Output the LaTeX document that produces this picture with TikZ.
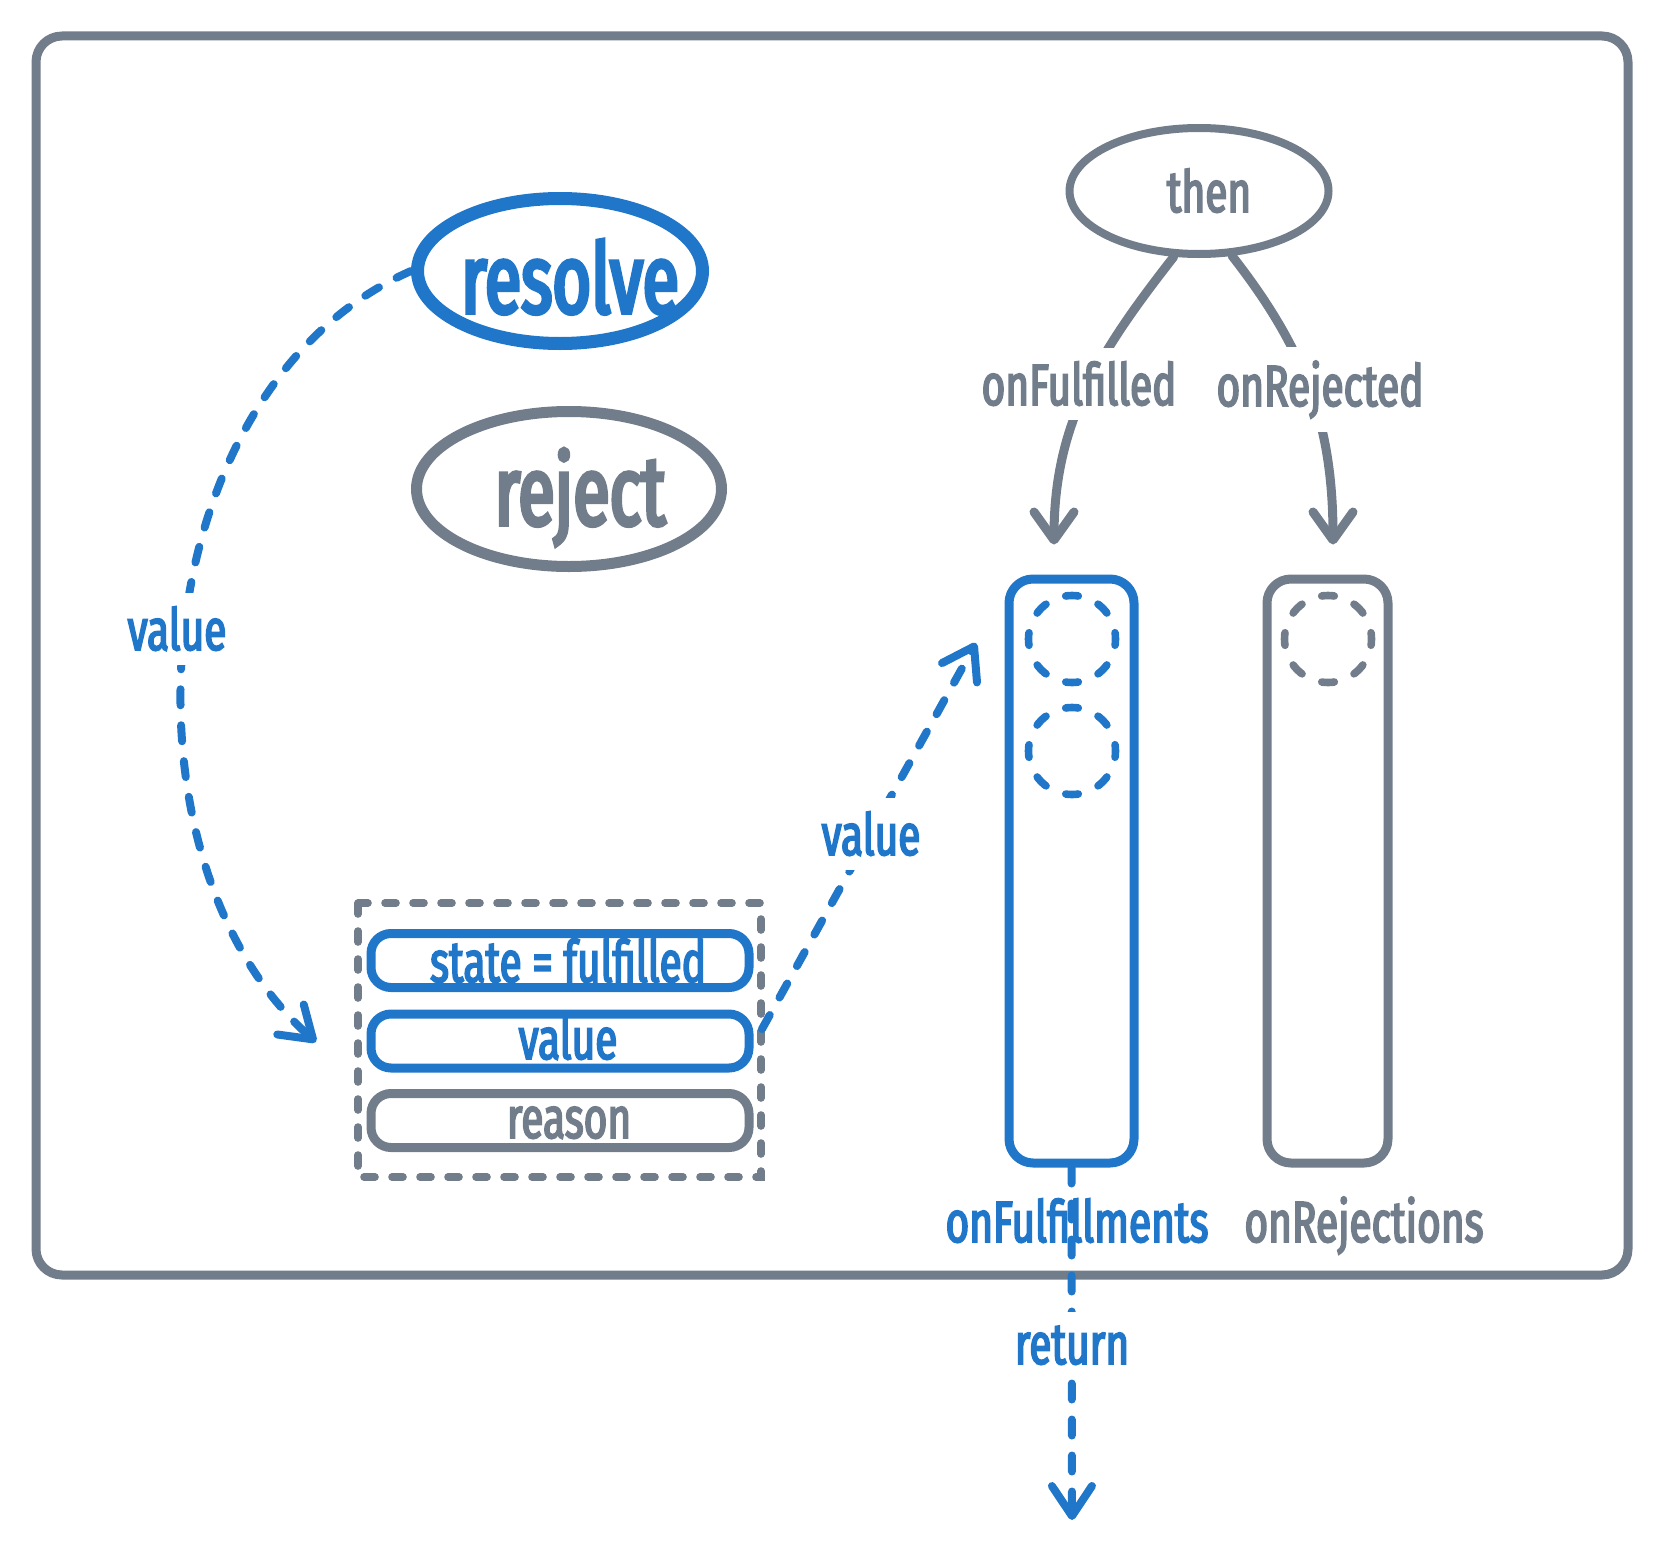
\documentclass[tikz,border=0pt]{standalone}
\usepackage{fontspec}
\setmainfont{Fira Sans}
\newfontfamily\hand{Fira Sans}[FakeStretch=0.7, FakeBold=3]
\newfontfamily\handbig{Fira Sans}[FakeStretch=0.68, FakeBold=4]
\usetikzlibrary{shapes.geometric,arrows.meta}
\definecolor{pblue}{RGB}{32,119,201}
\definecolor{pgray}{RGB}{113,125,138}
\begin{document}
\begin{tikzpicture}[x=0.5pt,y=-0.5pt,
  txt/.style={font=\hand\fontsize{29}{32}\selectfont, inner sep=0pt, anchor=base},
  bigtxt/.style={font=\handbig\fontsize{49}{52}\selectfont, inner sep=0pt, anchor=base},
  gap/.style={fill=white, inner xsep=4pt, inner ysep=7pt},
  oval/.style={ellipse, draw, inner sep=0pt},
  colbox/.style={draw, line width=4.5pt, rounded corners=12pt, minimum width=62.5pt, minimum height=292pt, inner sep=0pt},
  slot/.style={draw, line width=4.5pt, rounded corners=10pt, minimum width=189pt, minimum height=27pt, inner sep=0pt},
  dcirc/.style={circle, draw, line width=3.8pt, line cap=round, minimum size=43.5pt, inner sep=0pt, dash pattern=on 6.3pt off 10.78pt, dash phase=3.15pt},
  flow/.style={pblue, line width=4pt, line cap=round, dash pattern=on 8pt off 10pt, -{Straight Barb[length=15pt,width=20pt,round]}},
  garrow/.style={pgray, line width=4.5pt, line cap=round, -{Straight Barb[length=14pt,width=20pt,round]}}
]
\useasboundingbox (0,0) rectangle (1664,1552);

% outer frame
\draw[pgray, line width=4.5pt, rounded corners=13pt] (36,36) rectangle (1628,1275);

% ellipses
\node[oval, draw=pblue, line width=6.5pt, minimum width=142.5pt, minimum height=72.5pt] (resolve) at (560,271) {};
\node[bigtxt, pblue] (resolvetxt) at (570,313) {resolve};
\node[oval, draw=pgray, line width=5.5pt, minimum width=152.5pt, minimum height=77.5pt] (reject) at (569,489) {};
\node[bigtxt, pgray] (rejecttxt) at (580,525) {reject};
\node[oval, draw=pgray, line width=4pt, minimum width=129.5pt, minimum height=63pt] (then) at (1199,191) {};
\node[txt, pgray] (thentxt) at (1209,212) {then};

% state group
\draw[pgray, line width=3.8pt, line cap=round, dash pattern=on 5.5pt off 8.5pt] (358,903) rectangle (761,1177);
\coordinate (groupE) at (762,1029);
\node[slot, draw=pblue] (state) at (560,960.5) {};
\node[txt, pblue] (statetxt) at (568,982) {state = fulfilled};
\node[slot, draw=pblue] (value) at (560,1041) {};
\node[txt, pblue] (valuetxt) at (568,1059) {value};
\node[slot, draw=pgray] (reason) at (560,1120.5) {};
\node[txt, pgray] (reasontxt) at (569,1138) {reason};

% columns
\node[colbox, draw=pblue] (col1) at (1071.5,871) {};
\node[colbox, draw=pgray, minimum width=60.5pt] (col2) at (1327.5,871) {};
\node[dcirc, draw=pblue] (c1) at (1072,639) {};
\node[dcirc, draw=pblue] (c2) at (1072,751) {};
\node[dcirc, draw=pgray] (c3) at (1328,639) {};

% connectors
\draw[flow] (resolve.west) .. controls (140,390) and (110,860) .. (316,1042) coordinate (vend);
\draw[flow] (groupE) -- (976,643) coordinate (vtip);
\draw[flow] (col1.south) -- (1072,1520) coordinate (rtip);
\draw[garrow] (then.-111) to[out=-128,in=90] ([xshift=-8.75pt,yshift=15pt]col1.north);
\draw[garrow] (then.-63) to[out=-52,in=90] ([xshift=2.75pt,yshift=15pt]col2.north);

% labels
\node[txt, pblue, gap] (lv1) at (177,650) {value};
\node[txt, pblue, gap] (lv2) at (871,855) {value};
\node[txt, pgray, gap] (lonf) at (1079,405) {onFulfilled};
\node[txt, pgray, gap] (lonr) at (1320,406) {onRejected};
\node[txt, pblue, gap] (lret) at (1072,1364) {return};
\node[txt, pblue] (lcol1) at (1077,1242) {onFulfillments};
\node[txt, pgray] (lcol2) at (1364,1242) {onRejections};
\end{tikzpicture}
\end{document}
